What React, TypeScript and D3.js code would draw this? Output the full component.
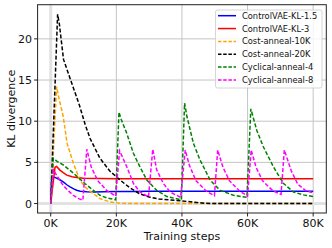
import React from 'react'
import * as d3 from 'd3'

const WIDTH = 332
const HEIGHT = 248
const PLOT = { left: 37.6, right: 326.3, top: 4.7, bottom: 213 }

// x values are training steps in thousands
const xTicks = [0, 20, 40, 60, 80]
const yTicks = [0, 5, 10, 15, 20]

const controlKL15: [number, number][] = [
  [0, 0], [0.3, 3.25], [1.3, 3.17], [2.5, 2.95], [3.8, 2.64], [5, 2.25], [5.9, 2.02],
  [7, 1.78], [7.9, 1.62], [9, 1.5], [11, 1.42], [13, 1.4], [16, 1.42], [20, 1.45],
  [25, 1.47], [30, 1.48], [40, 1.5], [50, 1.5], [60, 1.5], [70, 1.5], [80, 1.5]
]

const controlKL3: [number, number][] = [
  [0, 0], [1.3, 4.4], [1.8, 4.5], [2.8, 4.06], [3.8, 3.75], [4.9, 3.45], [6.5, 3.25],
  [7.9, 3.15], [10, 3.07], [15, 3.03], [20, 3.0], [30, 3.0], [40, 3.0], [50, 3.0],
  [60, 3.0], [70, 3.0], [80, 3.0]
]

const costAnneal10K: [number, number][] = [
  [0, 0], [1.8, 14.2], [2.6, 12.6], [3.1, 11.8], [3.8, 10.6], [5, 7.3], [6.9, 4.9],
  [8.9, 2.84], [10.5, 2.0], [12, 1.5], [15, 0.6], [18, 0.2], [21, 0.05], [24, 0], [80, 0]
]

const costAnneal20K: [number, number][] = [
  [0, 0], [2.1, 23], [2.6, 21.9], [3.9, 17.5], [5.9, 15.2], [8.7, 12.0], [10.5, 9.6],
  [12, 7.9], [15, 5.5], [18, 3.95], [21, 2.9], [24, 1.95], [27, 1.2], [30, 0.8],
  [33, 0.55], [36, 0.45], [40, 0.32], [44, 0.15], [47, 0.03], [50, 0], [80, 0]
]

const cyclical4: [number, number][] = [
  [0, 0], [0.8, 5.5], [2, 5.1], [3.8, 4.7], [6.9, 3.7], [10.5, 2.4], [13, 1.6], [15, 1.0],
  [17, 0.7], [19.8, 0.45],
  [20.8, 11.1], [21.5, 10.2], [23.2, 8.5], [25.2, 6.1], [27.2, 4.45], [29.3, 2.85],
  [32.3, 1.6], [35.4, 0.85], [39.8, 0.45],
  [40.8, 12.2], [41.5, 10.6], [43.5, 7.3], [45.5, 5.3], [48.6, 2.85], [51.6, 1.6],
  [55.7, 1.0], [59.8, 0.75],
  [61, 11.5], [62.8, 8.9], [64.8, 6.9], [67.9, 4.45], [70.9, 2.45], [74, 1.4],
  [77, 1.05], [80, 0.85]
]

const cyclical8: [number, number][] = [
  [0, 0], [0.8, 4.1], [2, 3.3], [3.8, 2.2], [5.5, 1.5], [6.9, 1.0], [8.5, 0.6], [9.8, 0.4],
  [11, 6.6], [12.3, 4.5], [14.3, 2.8], [17, 1.6], [19.8, 0.9],
  [21, 6.4], [23.2, 4.45], [25.2, 2.45], [27.2, 1.4], [29.8, 0.8],
  [31.1, 6.6], [32.3, 4.1], [34.3, 2.45], [36.4, 1.4], [39.6, 0.75],
  [41, 6.5], [42.3, 4.6], [44.3, 2.75], [47.3, 1.55], [49.9, 0.95],
  [50.9, 6.5], [52.5, 4.4], [54.5, 2.75], [57.5, 1.55], [60, 0.9],
  [61.1, 6.5], [62.6, 4.4], [64.6, 2.75], [67.7, 1.55], [70.2, 1.1],
  [71.2, 6.5], [73.3, 4.0], [75.3, 2.35], [77.8, 1.55], [80, 1.3]
]

const series = [
  { name: 'ControlVAE-KL-1.5', data: controlKL15, color: '#0000ff', dashed: false },
  { name: 'ControlVAE-KL-3', data: controlKL3, color: '#ff0000', dashed: false },
  { name: 'Cost-anneal-10K', data: costAnneal10K, color: '#ffa500', dashed: true },
  { name: 'Cost-anneal-20K', data: costAnneal20K, color: '#000000', dashed: true },
  { name: 'Cyclical-anneal-4', data: cyclical4, color: '#008000', dashed: true },
  { name: 'Cyclical-anneal-8', data: cyclical8, color: '#ff00ff', dashed: true }
]

const FONT = 'DejaVu Sans'

const App = () => {
  const x = d3.scaleLinear().domain([-4, 84]).range([PLOT.left, PLOT.right])
  const y = d3.scaleLinear().domain([-1.15, 24.15]).range([PLOT.bottom, PLOT.top])

  const line = d3
    .line<[number, number]>()
    .x(d => x(d[0]))
    .y(d => y(d[1]))

  const legendX = 215.5
  const legendY = 10
  const rowH = 12.85

  return (
    <svg
      width={WIDTH}
      height={HEIGHT}
      style={{ position: 'absolute', left: 0, top: 0, background: '#fff' }}
      fontFamily={FONT}
    >
      <defs>
        <clipPath id="plot">
          <rect x={PLOT.left} y={PLOT.top} width={PLOT.right - PLOT.left} height={PLOT.bottom - PLOT.top} />
        </clipPath>
      </defs>

      {/* grid */}
      {xTicks.map(t => (
        <line
          key={'gx' + t}
          x1={x(t)}
          x2={x(t)}
          y1={PLOT.top}
          y2={PLOT.bottom}
          stroke={t === 0 ? '#e2e2e2' : '#c4c4c4'}
          strokeWidth={t === 0 ? 3 : 1}
        />
      ))}
      {yTicks.map(t => (
        <line
          key={'gy' + t}
          x1={PLOT.left}
          x2={PLOT.right}
          y1={y(t)}
          y2={y(t)}
          stroke={t === 0 ? '#e2e2e2' : '#c4c4c4'}
          strokeWidth={t === 0 ? 3 : 1}
        />
      ))}

      <g clipPath="url(#plot)">
        {series.map(s => (
          <path
            key={s.name}
            d={line(s.data) ?? ''}
            fill="none"
            stroke={s.color}
            strokeWidth={1.5}
            strokeDasharray={s.dashed ? '4,2' : undefined}
          />
        ))}
      </g>

      {/* axes frame */}
      <rect
        x={PLOT.left}
        y={PLOT.top}
        width={PLOT.right - PLOT.left}
        height={PLOT.bottom - PLOT.top}
        fill="none"
        stroke="#222"
        strokeWidth={1}
      />

      {xTicks.map(t => (
        <g key={'tx' + t}>
          <line x1={x(t)} x2={x(t)} y1={PLOT.bottom} y2={PLOT.bottom + 3.5} stroke="#222" />
          <text x={x(t)} y={227.3} fontSize={11} textAnchor="middle" fill="#111">
            {t + 'K'}
          </text>
        </g>
      ))}
      {yTicks.map(t => (
        <g key={'ty' + t}>
          <line x1={PLOT.left - 3.5} x2={PLOT.left} y1={y(t)} y2={y(t)} stroke="#222" />
          <text x={32} y={y(t) + 4} fontSize={11} textAnchor="end" fill="#111">
            {t}
          </text>
        </g>
      ))}

      <text x={(PLOT.left + PLOT.right) / 2} y={239.5} fontSize={11} textAnchor="middle" fill="#111">
        Training steps
      </text>
      <text
        transform={`translate(15,${(PLOT.top + PLOT.bottom) / 2}) rotate(-90)`}
        fontSize={11}
        textAnchor="middle"
        fill="#111"
      >
        KL divergence
      </text>

      {/* legend */}
      <rect
        x={legendX}
        y={legendY}
        width={106.5}
        height={78}
        rx={2}
        fill="#fff"
        fillOpacity={0.8}
        stroke="#cccccc"
        strokeWidth={0.8}
      />
      {series.map((s, i) => {
        const cy = legendY + 5.7 + i * rowH
        return (
          <g key={'lg' + s.name}>
            <line
              x1={legendX + 2.5}
              x2={legendX + 20.5}
              y1={cy}
              y2={cy}
              stroke={s.color}
              strokeWidth={1.5}
              strokeDasharray={s.dashed ? '3.5,1.7' : undefined}
            />
            <text x={legendX + 26.5} y={cy + 3} fontSize={8.3} fill="#111">
              {s.name}
            </text>
          </g>
        )
      })}
    </svg>
  )
}

export default App
